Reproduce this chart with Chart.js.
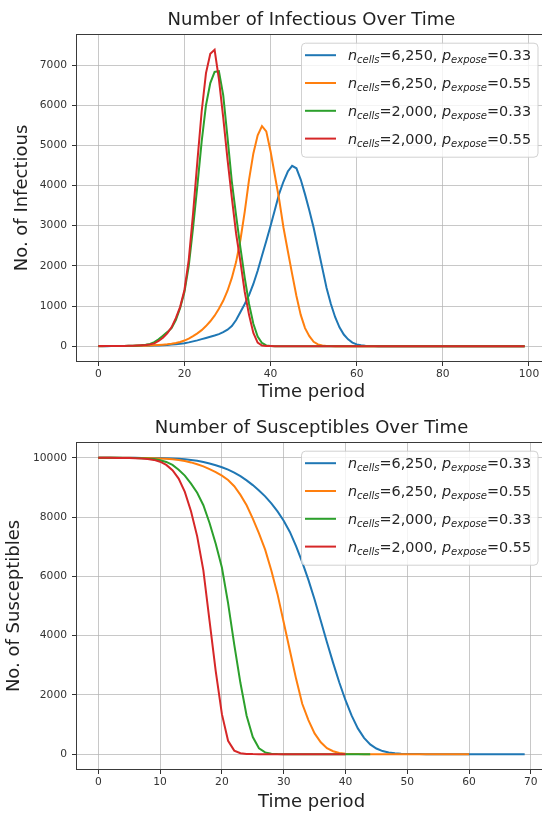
<!DOCTYPE html>
<html><head><meta charset="utf-8">
<script src="https://cdn.jsdelivr.net/npm/chart.js@4/dist/chart.umd.min.js"></script>
<style>
html,body{margin:0;padding:0;background:#fff;overflow:hidden;width:542px;height:813px;}
#wrap{position:relative;width:542px;height:813px;overflow:hidden;}
#c1{position:absolute;left:0;top:0;}
#c2{position:absolute;left:0;top:408px;}
</style></head><body>
<div id="wrap">
<canvas id="c1" width="560" height="408"></canvas>
<canvas id="c2" width="560" height="405"></canvas>
</div>
<script>
// ---------- DATA ----------
const seriesLabels = ['n_cells=6,250, p_expose=0.33','n_cells=6,250, p_expose=0.55','n_cells=2,000, p_expose=0.33','n_cells=2,000, p_expose=0.55'];
const legendCells = ['6,250','6,250','2,000','2,000'];
const legendExpose = ['0.33','0.55','0.33','0.55'];
const seriesColors = ['#1f77b4','#ff7f0e','#2ca02c','#d62728'];

// Top chart: number of infectious, time periods 0..99
const infBlue = [1,1,1,2,2,3,3,4,5,6,
 8,10,13,16,20,25,32,40,50,60,
 75,95,120,145,175,205,235,265,300,350,
 410,500,650,850,1050,1270,1550,1880,2250,2620,
 3000,3400,3800,4100,4350,4490,4430,4150,3780,3380,
 2950,2450,1950,1450,1050,720,470,290,170,90,
 45,22,10,4,2,1,0,0,0,0,
 0,0,0,0,0,0,0,0,0,0,
 0,0,0,0,0,0,0,0,0,0,
 0,0,0,0,0,0,0,0,0,0];
const infOrange = [1,1,2,2,3,3,4,5,6,8,
 10,13,17,22,28,36,46,60,80,105,
 140,190,250,320,400,500,620,760,930,1130,
 1380,1700,2100,2650,3350,4150,4800,5250,5480,5350,
 4850,4250,3650,2950,2370,1800,1250,780,450,250,
 110,45,17,6,2,1,0,0,0,0,
 0,0,0,0,0,0,0,0,0,0,
 0,0,0,0,0,0,0,0,0,0,
 0,0,0,0,0,0,0,0,0,0,
 0,0,0,0,0,0,0,0,0,0];
const infGreen = [2,2,3,3,4,5,7,9,12,17,
 24,35,55,100,170,260,350,450,650,950,
 1350,2000,2950,4000,5100,6000,6550,6830,6850,6250,
 5200,4100,3250,2450,1700,1050,560,240,80,20,
 5,1,0,0,0,0,0,0,0,0,
 0,0,0,0,0,0,0,0,0,0,
 0,0,0,0,0,0,0,0,0,0,
 0,0,0,0,0,0,0,0,0,0,
 0,0,0,0,0,0,0,0,0,0,
 0,0,0,0,0,0,0,0,0,0];
const infRed = [2,2,3,3,4,5,7,9,12,16,
 22,30,45,70,130,210,320,470,700,980,
 1400,2150,3300,4600,5850,6800,7280,7380,6650,5700,
 4650,3700,2800,2100,1350,780,330,90,18,5,
 2,1,0,0,0,0,0,0,0,0,
 0,0,0,0,0,0,0,0,0,0,
 0,0,0,0,0,0,0,0,0,0,
 0,0,0,0,0,0,0,0,0,0,
 0,0,0,0,0,0,0,0,0,0,
 0,0,0,0,0,0,0,0,0,0];
const infXTicks = [0,20,40,60,80,100];
const infYTicks = [0,1000,2000,3000,4000,5000,6000,7000];

// Bottom chart: number of susceptibles (series have different lengths)
const susBlue = [10000,10000,10000,10000,10000,9999,9999,9998,9997,9995,
 9990,9985,9978,9967,9952,9930,9900,9860,9810,9750,
 9680,9600,9500,9380,9240,9080,8900,8700,8460,8190,
 7880,7500,7020,6480,5880,5220,4500,3780,3080,2420,
 1820,1300,870,550,330,190,105,55,28,14,
 7,3,2,1,0,0,0,0,0,0,
 0,0,0,0,0,0,0,0,0,0];
const susOrange = [10000,10000,10000,10000,9999,9999,9998,9996,9993,9988,
 9980,9968,9950,9925,9890,9845,9785,9710,9620,9520,
 9400,9250,9040,8750,8400,7950,7450,6900,6200,5400,
 4450,3500,2550,1700,1150,700,400,200,100,40,
 15,5,2,1,0,0,0,0,0,0,
 0,0,0,0,0,0,0,0,0,0,
 0];
const susGreen = [10000,10000,10000,9999,9998,9996,9993,9988,9978,9962,
 9920,9860,9760,9600,9400,9130,8820,8400,7800,7100,
 6300,5100,3700,2400,1300,580,200,60,15,4,
 1,0,0,0,0,0,0,0,0,0,
 0,0,0,0,0];
const susRed = [10000,10000,9999,9998,9996,9993,9988,9978,9960,9930,
 9870,9760,9580,9300,8850,8200,7350,6200,4500,2800,
 1350,450,120,30,8,2,1,0,0,0,
 0,0,0,0,0,0,0,0,0,0,
 0];
const susXTicks = [0,10,20,30,40,50,60,70];
const susYTicks = [0,2000,4000,6000,8000,10000];

// ---------- RENDERING ----------
const FONT = 'DejaVu Sans';
const toPts = arr => arr.map((v, i) => ({x: i, y: v}));

const mplBox = {
  id: 'mplBox',
  afterDatasetsDraw(chart, args, opts) {
    const {ctx, chartArea: a} = chart;
    ctx.save();
    // title centred over the axes box
    ctx.fillStyle = '#222'; ctx.textAlign = 'center'; ctx.textBaseline = 'middle';
    ctx.font = `18px "${FONT}"`;
    ctx.fillText(opts.title, (a.left + a.right) / 2, 20.6);
    // spines (right spine falls just outside the visible page)
    ctx.strokeStyle = '#3a3a3a'; ctx.lineWidth = 1;
    ctx.strokeRect(Math.round(a.left) - 0.5, Math.round(a.top) - 0.5,
                   Math.round(a.right - a.left) + 1, Math.round(a.bottom - a.top) + 1);
    // legend
    const x1 = a.right - 8.5, x0 = x1 - 236.5, y0 = a.top + 7.7, h = 114;
    ctx.beginPath();
    ctx.roundRect(x0 + 0.5, y0 + 0.5, x1 - x0, h, 4);
    ctx.fillStyle = 'rgba(255,255,255,0.8)'; ctx.fill();
    ctx.strokeStyle = 'rgba(204,204,204,0.9)'; ctx.lineWidth = 1; ctx.stroke();
    const main = 14.4, sub = 10;
    chart.data.datasets.forEach((ds, i) => {
      const cy = y0 + 12.5 + i * 27.8;
      ctx.strokeStyle = ds.borderColor; ctx.lineWidth = 2;
      ctx.beginPath(); ctx.moveTo(x0 + 4, cy); ctx.lineTo(x0 + 35, cy); ctx.stroke();
      let x = x0 + 47;
      const base = cy + 5.2, subBase = base + 3;
      const segs = [
        {t: 'n', f: `italic ${main}px "${FONT}"`, y: base},
        {t: 'cells', f: `italic ${sub}px "${FONT}"`, y: subBase},
        {t: '=' + legendCells[i] + ', ', f: `${main}px "${FONT}"`, y: base},
        {t: 'p', f: `italic ${main}px "${FONT}"`, y: base},
        {t: 'expose', f: `italic ${sub}px "${FONT}"`, y: subBase},
        {t: '=' + legendExpose[i], f: `${main}px "${FONT}"`, y: base}
      ];
      ctx.fillStyle = '#262626'; ctx.textAlign = 'left'; ctx.textBaseline = 'alphabetic';
      segs.forEach(s => { ctx.font = s.f; ctx.fillText(s.t, x, s.y); x += ctx.measureText(s.t).width; });
    });
    ctx.restore();
  }
};

function makeChart(id, cfg) {
  const datasets = cfg.series.map((arr, i) => ({
    label: seriesLabels[i],
    data: toPts(arr),
    borderColor: seriesColors[i],
    backgroundColor: seriesColors[i],
    borderWidth: 2,
    pointRadius: 0,
    tension: 0,
    fill: false,
    order: 4 - i
  }));
  const gridCfg = {color: 'rgba(176,176,176,0.7)', lineWidth: 1, tickLength: 5, tickColor: '#333', drawTicks: true};
  return new Chart(document.getElementById(id), {
    type: 'line',
    data: {datasets},
    options: {
      responsive: false, animation: false, devicePixelRatio: 1,
      layout: {padding: {top: 35, right: 14, bottom: 0, left: 0}},
      plugins: {
        legend: {display: false}, tooltip: {enabled: false}, title: {display: false},
        mplBox: {title: cfg.title}
      },
      scales: {
        x: {
          type: 'linear', min: cfg.xMin, max: cfg.xMax,
          afterBuildTicks: s => { s.ticks = cfg.xTicks.map(v => ({value: v})); },
          afterFit: s => { s.height = cfg.xAxisH; s.paddingLeft = 0; s.paddingRight = 0; },
          grid: gridCfg, border: {display: false},
          ticks: {color: '#333', font: {family: FONT, size: 10.7}, padding: 2, maxRotation: 0, autoSkip: false, callback: v => String(v)},
          title: {display: true, text: 'Time period', color: '#222', font: {family: FONT, size: 18}, padding: {top: 0, bottom: cfg.xTitlePad}}
        },
        y: {
          type: 'linear', min: cfg.yMin, max: cfg.yMax,
          afterBuildTicks: s => { s.ticks = cfg.yTicks.map(v => ({value: v})); },
          afterFit: s => { s.width = 77; s.paddingTop = 0; s.paddingBottom = 0; },
          grid: gridCfg, border: {display: false},
          ticks: {color: '#333', font: {family: FONT, size: 10.7}, padding: 5, autoSkip: false, callback: v => String(v)},
          title: {display: true, text: cfg.yTitle, color: '#222', font: {family: FONT, size: 18}, padding: {top: cfg.yTitlePad, bottom: 0}}
        }
      }
    },
    plugins: [mplBox]
  });
}

makeChart('c1', {
  title: 'Number of Infectious Over Time', yTitle: 'No. of Infectious', yTitlePad: 12,
  series: [infBlue, infOrange, infGreen, infRed],
  xMin: -4.95, xMax: 103.95, yMin: -369, yMax: 7749,
  xTicks: infXTicks, yTicks: infYTicks, xAxisH: 47, xTitlePad: 4.5
});
makeChart('c2', {
  title: 'Number of Susceptibles Over Time', yTitle: 'No. of Susceptibles', yTitlePad: 4,
  series: [susBlue, susOrange, susGreen, susRed],
  xMin: -3.45, xMax: 72.45, yMin: -500, yMax: 10500,
  xTicks: susXTicks, yTicks: susYTicks, xAxisH: 44, xTitlePad: 0
});
</script>
</body></html>
